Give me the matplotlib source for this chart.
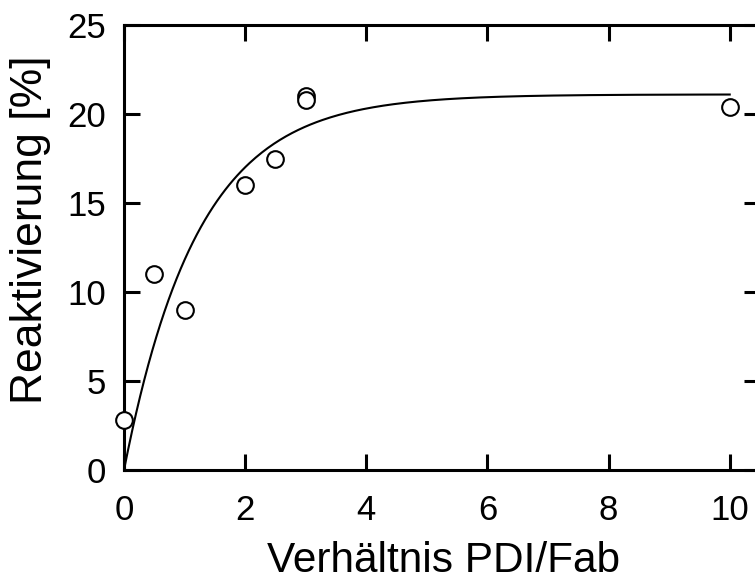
import numpy as np
import matplotlib.pyplot as plt

# Messpunkte
verhaeltnis = [0, 0.5, 1, 2, 2.5, 3, 3, 10]
reaktivierung = [2.8, 11.0, 9.0, 16.0, 17.5, 21.0, 20.8, 20.4]

# Parameter der Anpassungskurve y = A * (1 - exp(-k x))
fit_A = 21.1
fit_k = 0.82
fit_xmax = 10

plt.rcParams['font.family'] = ['Liberation Sans', 'DejaVu Sans']

fig = plt.figure(figsize=(7.55, 5.84), dpi=100)
ax = fig.add_axes([124 / 755, 114 / 584, 636 / 755, 445 / 584])

x_fit = np.linspace(0, fit_xmax, 300)
y_fit = fit_A * (1 - np.exp(-fit_k * x_fit))
ax.plot(x_fit, y_fit, color='black', lw=1.5, zorder=2)

ax.plot(verhaeltnis, reaktivierung, 'o', ms=12, mfc='white', mec='black',
        mew=1.5, clip_on=False, zorder=5)

ax.set_xlim(0, 10.5)
ax.set_ylim(0, 25)
ax.set_xticks([0, 2, 4, 6, 8, 10])
ax.set_yticks([0, 5, 10, 15, 20, 25])

for s in ax.spines.values():
    s.set_linewidth(2.2)
ax.tick_params(direction='in', length=11.5, width=2.2, labelsize=25,
               top=True, right=True)
ax.tick_params(axis='x', pad=17)
ax.tick_params(axis='y', pad=13)

ax.set_xlabel('Verhältnis PDI/Fab', fontsize=30.5)
ax.set_ylabel('Reaktivierung [%]', fontsize=32)
ax.xaxis.set_label_coords(0.502, -0.16)
ax.yaxis.set_label_coords(-0.115, 0.539)

fig.savefig('out.png', dpi=100)
